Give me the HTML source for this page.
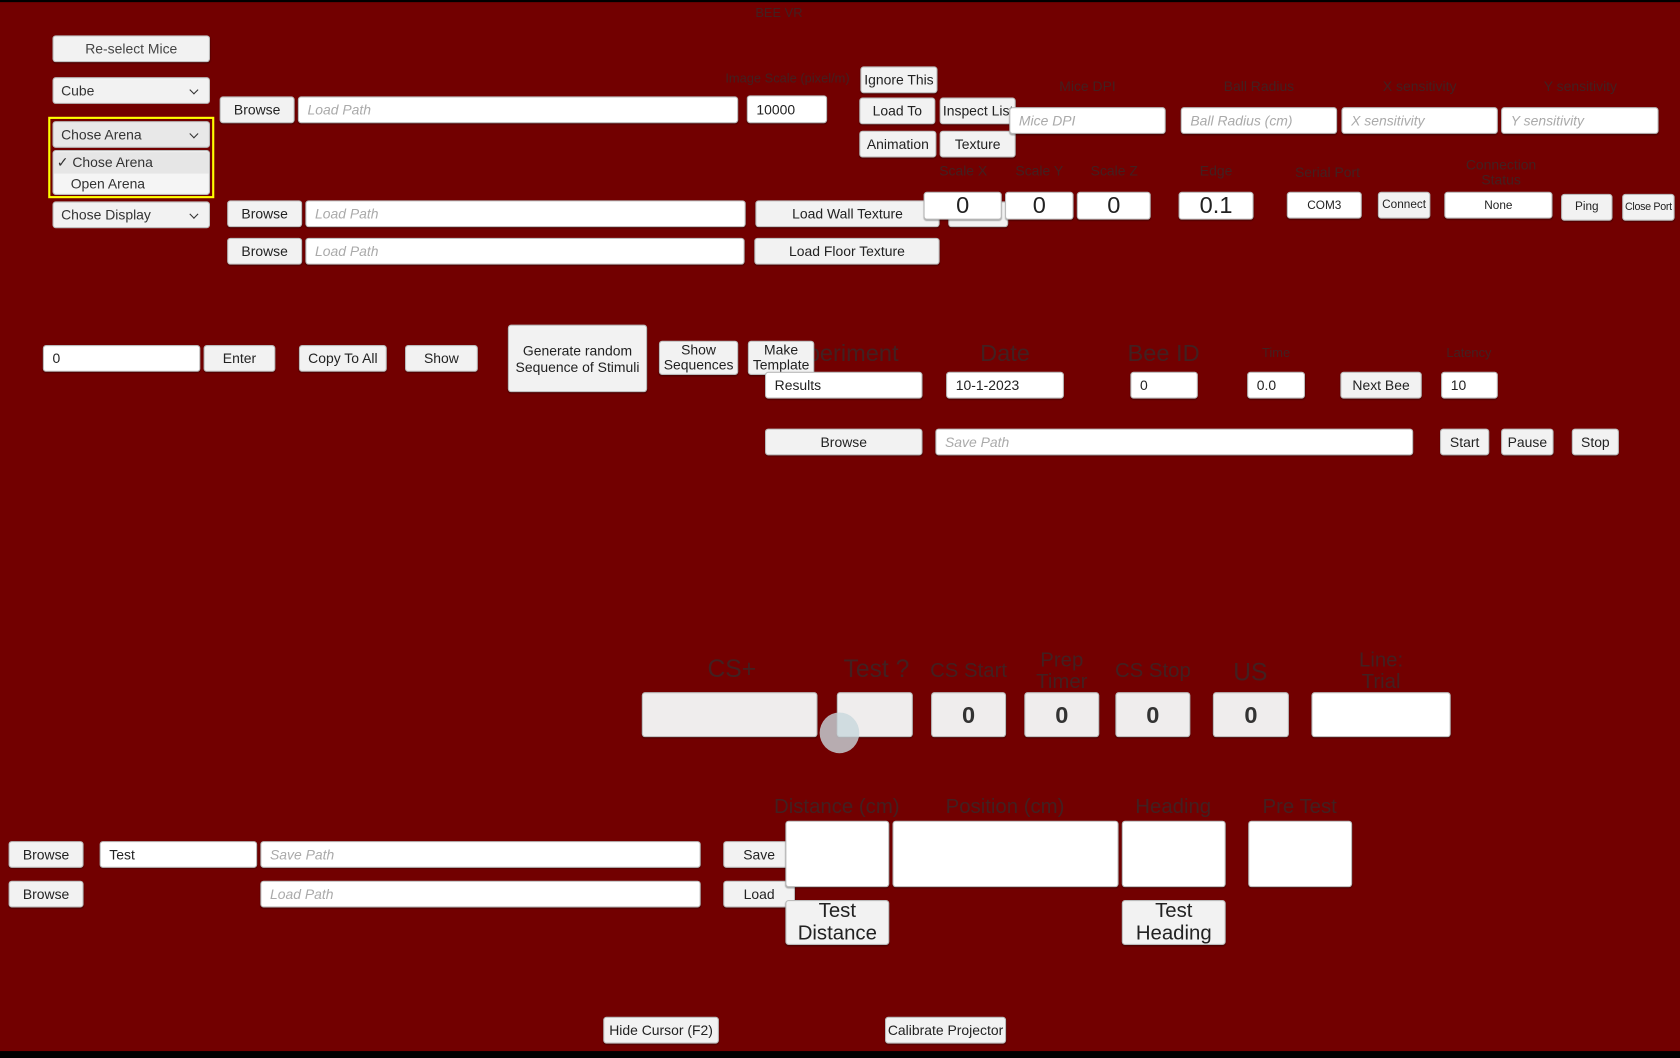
<!DOCTYPE html>
<html><head><meta charset="utf-8">
<style>
html,body{margin:0;padding:0;width:1680px;height:1056px;overflow:hidden;background:#000;}
#w{position:absolute;left:0;top:0;width:1568px;height:986px;transform:scale(1.07143);transform-origin:0 0;background:#720000;font-family:"Liberation Sans Narrow","Liberation Sans",sans-serif;}
#w div{position:absolute;box-sizing:border-box;}
.b{background:#f2f2f2;border:1px solid #bbb;border-radius:3px;color:#222;font-size:13px;display:flex;align-items:center;justify-content:center;text-align:center;line-height:15px;box-shadow:0 1px 1px rgba(0,0,0,.3);}
.i{background:#fff;border:1px solid #bbb;border-radius:3px;color:#222;font-size:13px;display:flex;align-items:center;padding-left:8px;box-shadow:0 1px 1px rgba(0,0,0,.3);}
.ph{color:#aaa;font-style:italic;}
.d{background:#f2f2f2;border:1px solid #bbb;border-radius:3px;color:#333;font-size:13px;display:flex;align-items:center;padding-left:7px;font-family:"Liberation Sans",sans-serif;}
.d::after{content:"";position:absolute;right:11px;top:8px;width:5px;height:5px;border-right:1.3px solid #333;border-bottom:1.3px solid #333;transform:rotate(45deg);}
.l{color:rgba(45,45,45,.7);text-align:center;white-space:nowrap;transform:translateX(-50%);line-height:1.05;}
.big{font-size:22px;justify-content:center;padding:0;font-family:"Liberation Sans",sans-serif;}
</style></head><body><div id="w">
<div style="left:0;top:0;width:1568px;height:2px;background:#000"></div>
<div class="l" style="left:727px;top:6px;font-size:12px">BEE VR</div>

<div class="b" style="left:49px;top:33px;width:147px;height:25px;font-family:'Liberation Sans',sans-serif;color:#444">Re-select Mice</div>
<div class="d" style="left:49px;top:72px;width:147px;height:25px">Cube</div>
<div style="left:45px;top:109px;width:155px;height:76px;border:2px solid #ffff00"></div>
<div class="d" style="left:49px;top:113px;width:147px;height:25px;background:#e8e8e8">Chose Arena</div>
<div style="left:49px;top:140px;width:147px;height:42px;background:#f5f5f5;border:1px solid #bbb;border-radius:3px;font-family:'Liberation Sans',sans-serif;font-size:13px;color:#333">
 <div style="left:0;top:1px;width:145px;height:20px;background:#e6e6e6;padding-left:3px;line-height:20px">✓ Chose Arena</div>
 <div style="left:16px;top:21px;line-height:20px">Open Arena</div>
</div>
<div class="d" style="left:49px;top:188px;width:147px;height:25px">Chose Display</div>

<div class="b" style="left:205px;top:90px;width:70px;height:25px;font-family:'Liberation Sans',sans-serif">Browse</div>
<div class="i ph" style="left:278px;top:90px;width:411px;height:25px">Load Path</div>
<div class="l" style="left:735px;top:67px;font-size:12px">Image Scale (pixel/m)</div>
<div class="i" style="left:697px;top:89px;width:75px;height:26px">10000</div>
<div class="b" style="left:803px;top:62px;width:72px;height:25px">Ignore This</div>
<div class="b" style="left:802px;top:91px;width:71px;height:25px">Load To</div>
<div class="b" style="left:877px;top:91px;width:71px;height:25px;justify-content:flex-start;padding-left:2px;overflow:hidden;white-space:nowrap">Inspect List</div>
<div class="b" style="left:802px;top:122px;width:72px;height:25px">Animation</div>
<div class="b" style="left:877px;top:122px;width:71px;height:25px">Texture</div>

<div class="l" style="left:1015px;top:74px;font-size:13px">Mice DPI</div>
<div class="l" style="left:1175px;top:74px;font-size:13px">Ball Radius</div>
<div class="l" style="left:1325px;top:74px;font-size:13px">X sensitivity</div>
<div class="l" style="left:1475px;top:74px;font-size:13px">Y sensitivity</div>
<div class="i ph" style="left:942px;top:100px;width:146px;height:25px">Mice DPI</div>
<div class="i ph" style="left:1102px;top:100px;width:146px;height:25px">Ball Radius (cm)</div>
<div class="i ph" style="left:1252px;top:100px;width:146px;height:25px">X sensitivity</div>
<div class="i ph" style="left:1401px;top:100px;width:147px;height:25px">Y sensitivity</div>

<div class="l" style="left:899px;top:153px;font-size:13px">Scale X</div>
<div class="l" style="left:970px;top:153px;font-size:13px">Scale Y</div>
<div class="l" style="left:1040px;top:153px;font-size:13px">Scale Z</div>
<div class="l" style="left:1135px;top:153px;font-size:13px">Edge</div>
<div class="l" style="left:1239px;top:154px;font-size:13px">Serial Port</div>
<div class="l" style="left:1401px;top:147px;font-size:13px">Connection<br>Status</div>

<div class="b" style="left:212px;top:187px;width:70px;height:25px;font-family:'Liberation Sans',sans-serif">Browse</div>
<div class="i ph" style="left:285px;top:187px;width:411px;height:25px">Load Path</div>
<div class="b" style="left:705px;top:187px;width:172px;height:25px;font-family:'Liberation Sans',sans-serif">Load Wall Texture</div>
<div class="b" style="left:885px;top:188px;width:56px;height:24px"></div>
<div class="i big" style="left:862px;top:179px;width:73px;height:26px">0</div>
<div class="i big" style="left:938px;top:179px;width:64px;height:26px">0</div>
<div class="i big" style="left:1005px;top:179px;width:69px;height:26px">0</div>
<div class="i big" style="left:1100px;top:179px;width:70px;height:26px">0.1</div>
<div class="i" style="left:1201px;top:179px;width:70px;height:25px;justify-content:center;padding:0;font-size:11px">COM3</div>
<div class="b" style="left:1286px;top:179px;width:49px;height:25px;font-size:11px">Connect</div>
<div class="i" style="left:1348px;top:179px;width:101px;height:25px;justify-content:center;padding:0;font-size:11px">None</div>
<div class="b" style="left:1457px;top:181px;width:48px;height:25px;font-size:11px">Ping</div>
<div class="b" style="left:1514px;top:181px;width:49px;height:25px;font-size:10px;white-space:nowrap;letter-spacing:-0.3px">Close Port</div>

<div class="b" style="left:212px;top:222px;width:70px;height:25px;font-family:'Liberation Sans',sans-serif">Browse</div>
<div class="i ph" style="left:285px;top:222px;width:410px;height:25px">Load Path</div>
<div class="b" style="left:704px;top:222px;width:173px;height:25px;font-family:'Liberation Sans',sans-serif">Load Floor Texture</div>

<div class="i" style="left:40px;top:322px;width:147px;height:25px">0</div>
<div class="b" style="left:190px;top:322px;width:67px;height:25px">Enter</div>
<div class="b" style="left:279px;top:322px;width:82px;height:25px">Copy To All</div>
<div class="b" style="left:378px;top:322px;width:68px;height:25px">Show</div>
<div class="b" style="left:474px;top:303px;width:130px;height:63px">Generate random<br>Sequence of Stimuli</div>
<div class="l" style="left:783px;top:318px;font-size:22px">Experiment</div>
<div class="b" style="left:615px;top:318px;width:74px;height:32px;line-height:14px">Show<br>Sequences</div>
<div class="b" style="left:698px;top:318px;width:62px;height:32px;line-height:14px">Make<br>Template</div>
<div class="l" style="left:938px;top:318px;font-size:22px">Date</div>
<div class="l" style="left:1086px;top:318px;font-size:22px">Bee ID</div>
<div class="l" style="left:1191px;top:323px;font-size:12px">Time</div>
<div class="l" style="left:1371px;top:323px;font-size:12px">Latency</div>
<div class="i" style="left:714px;top:347px;width:147px;height:25px">Results</div>
<div class="i" style="left:883px;top:347px;width:110px;height:25px">10-1-2023</div>
<div class="i" style="left:1055px;top:347px;width:63px;height:25px">0</div>
<div class="i" style="left:1164px;top:347px;width:54px;height:25px">0.0</div>
<div class="b" style="left:1251px;top:347px;width:76px;height:25px">Next Bee</div>
<div class="i" style="left:1345px;top:347px;width:53px;height:25px">10</div>

<div class="b" style="left:714px;top:400px;width:147px;height:25px">Browse</div>
<div class="i ph" style="left:873px;top:400px;width:446px;height:25px">Save Path</div>
<div class="b" style="left:1344px;top:400px;width:46px;height:25px">Start</div>
<div class="b" style="left:1401px;top:400px;width:49px;height:25px">Pause</div>
<div class="b" style="left:1467px;top:400px;width:44px;height:25px">Stop</div>

<div class="l" style="left:683px;top:612px;font-size:23px">CS+</div>
<div class="l" style="left:818px;top:612px;font-size:23px">Test ?</div>
<div class="l" style="left:904px;top:617px;font-size:19px">CS Start</div>
<div class="l" style="left:991px;top:607px;font-size:19px">Prep<br>Timer</div>
<div class="l" style="left:1076px;top:617px;font-size:19px">CS Stop</div>
<div class="l" style="left:1167px;top:615px;font-size:23px">US</div>
<div class="l" style="left:1289px;top:607px;font-size:19px">Line:<br>Trial</div>
<div class="b" style="left:599px;top:646px;width:164px;height:42px;background:#efeded"></div>
<div class="b" style="left:781px;top:646px;width:71px;height:42px;background:#efeded"></div>
<div class="b" style="left:869px;top:646px;width:70px;height:42px;background:#efeded;font-size:22px;font-weight:bold;color:#333">0</div>
<div class="b" style="left:956px;top:646px;width:70px;height:42px;background:#efeded;font-size:22px;font-weight:bold;color:#333">0</div>
<div class="b" style="left:1041px;top:646px;width:70px;height:42px;background:#efeded;font-size:22px;font-weight:bold;color:#333">0</div>
<div class="b" style="left:1132px;top:646px;width:71px;height:42px;background:#efeded;font-size:22px;font-weight:bold;color:#333">0</div>
<div class="i" style="left:1224px;top:646px;width:130px;height:42px"></div>
<div style="left:765px;top:665px;width:37px;height:38px;border-radius:50%;background:rgba(200,215,220,.8)"></div>

<div class="l" style="left:781px;top:744px;font-size:19px">Distance (cm)</div>
<div class="l" style="left:938px;top:744px;font-size:19px">Position (cm)</div>
<div class="l" style="left:1095px;top:744px;font-size:19px">Heading</div>
<div class="l" style="left:1213px;top:744px;font-size:19px">Pre Test</div>

<div class="b" style="left:8px;top:785px;width:70px;height:25px">Browse</div>
<div class="i" style="left:93px;top:785px;width:147px;height:25px">Test</div>
<div class="i ph" style="left:243px;top:785px;width:411px;height:25px">Save Path</div>
<div class="b" style="left:675px;top:785px;width:67px;height:25px">Save</div>
<div class="b" style="left:8px;top:822px;width:70px;height:25px">Browse</div>
<div class="i ph" style="left:243px;top:822px;width:411px;height:25px">Load Path</div>
<div class="b" style="left:675px;top:822px;width:67px;height:25px">Load</div>

<div class="i" style="left:733px;top:766px;width:97px;height:62px"></div>
<div class="i" style="left:833px;top:766px;width:211px;height:62px"></div>
<div class="i" style="left:1047px;top:766px;width:97px;height:62px"></div>
<div class="i" style="left:1165px;top:766px;width:97px;height:62px"></div>
<div class="b" style="left:733px;top:840px;width:97px;height:42px;font-size:19px;line-height:21px">Test<br>Distance</div>
<div class="b" style="left:1047px;top:840px;width:97px;height:42px;font-size:19px;line-height:21px">Test<br>Heading</div>

<div class="b" style="left:563px;top:949px;width:108px;height:25px">Hide Cursor (F2)</div>
<div class="b" style="left:826px;top:949px;width:113px;height:25px">Calibrate Projector</div>
<div style="left:0;top:981px;width:1568px;height:6px;background:#000"></div>
</div></body></html>
